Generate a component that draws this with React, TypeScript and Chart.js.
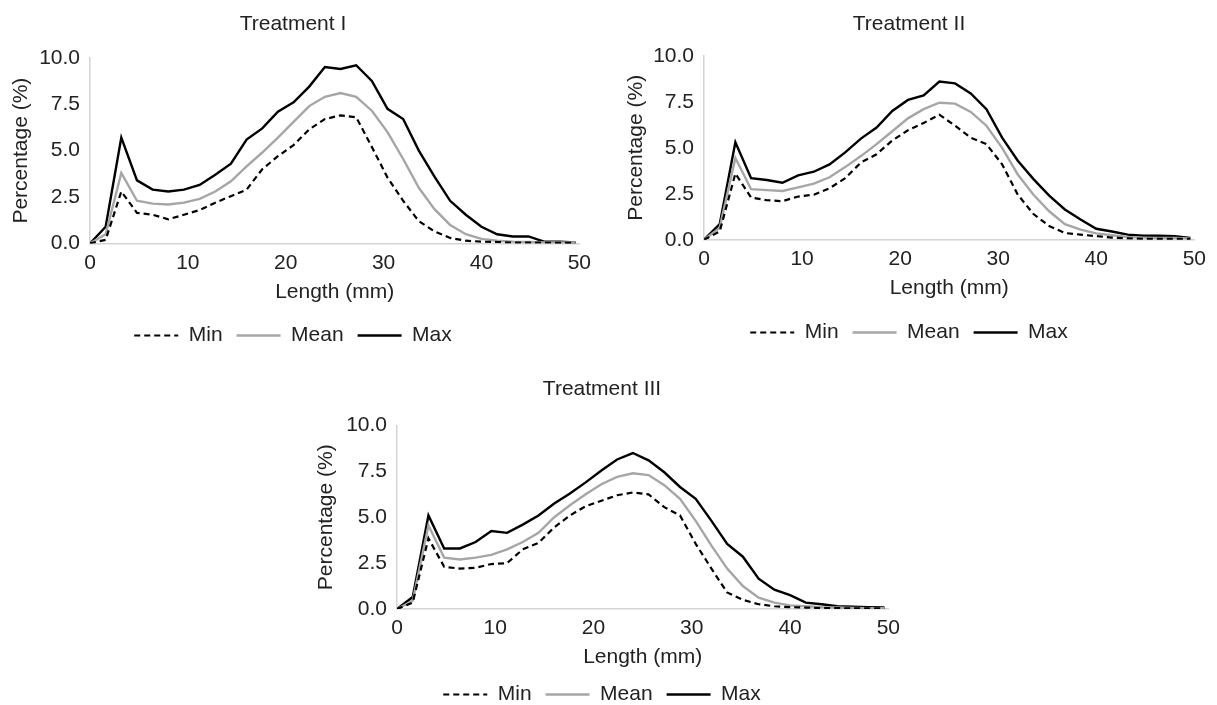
import React, { useEffect, useRef } from 'react';
import { Chart, registerables } from 'chart.js';

Chart.register(...registerables);

// ---- Data ----
const LENGTHS = [0, 1.6, 3.2, 4.8, 6.4, 8, 9.6, 11.2, 12.8, 14.4, 16, 17.6, 19.2, 20.8, 22.4, 24, 25.6, 27.2, 28.8, 30.4, 32, 33.6, 35.2, 36.8, 38.4, 40, 41.6, 43.2, 44.8, 46.4, 48, 49.6];

const T1_MIN = [0, 0.2, 2.8, 1.65, 1.55, 1.3, 1.55, 1.8, 2.2, 2.55, 2.9, 4.0, 4.7, 5.3, 6.15, 6.7, 6.9, 6.8, 5.2, 3.55, 2.3, 1.2, 0.65, 0.3, 0.15, 0.1, 0.08, 0.05, 0.05, 0.05, 0.03, 0.03];
const T1_MEAN = [0, 0.5, 3.8, 2.3, 2.15, 2.1, 2.2, 2.4, 2.8, 3.35, 4.15, 4.9, 5.7, 6.55, 7.4, 7.9, 8.1, 7.9, 7.15, 6.0, 4.55, 3.0, 1.85, 1.0, 0.5, 0.25, 0.15, 0.1, 0.08, 0.05, 0.05, 0.05];
const T1_MAX = [0, 0.9, 5.7, 3.4, 2.9, 2.8, 2.9, 3.15, 3.7, 4.3, 5.6, 6.2, 7.1, 7.6, 8.45, 9.5, 9.4, 9.6, 8.75, 7.25, 6.7, 5.0, 3.6, 2.3, 1.55, 0.9, 0.5, 0.38, 0.38, 0.1, 0.1, 0.05];

const T2_MIN = [0, 0.45, 3.6, 2.3, 2.15, 2.1, 2.35, 2.45, 2.8, 3.35, 4.2, 4.65, 5.4, 5.95, 6.35, 6.8, 6.2, 5.55, 5.2, 4.1, 2.45, 1.4, 0.75, 0.37, 0.28, 0.2, 0.12, 0.08, 0.05, 0.05, 0.05, 0.05];
const T2_MEAN = [0, 0.65, 4.45, 2.75, 2.7, 2.65, 2.85, 3.05, 3.4, 3.95, 4.55, 5.2, 5.9, 6.6, 7.1, 7.45, 7.4, 6.95, 6.2, 5.0, 3.55, 2.45, 1.55, 0.85, 0.55, 0.35, 0.25, 0.15, 0.12, 0.1, 0.1, 0.08];
const T2_MAX = [0, 0.85, 5.3, 3.35, 3.25, 3.1, 3.5, 3.7, 4.1, 4.75, 5.5, 6.1, 7.0, 7.6, 7.85, 8.6, 8.5, 7.95, 7.1, 5.55, 4.3, 3.3, 2.4, 1.65, 1.1, 0.6, 0.45, 0.28, 0.22, 0.22, 0.2, 0.1];

const T3_MIN = [0, 0.35, 3.85, 2.3, 2.2, 2.25, 2.45, 2.5, 3.25, 3.6, 4.45, 5.1, 5.6, 5.9, 6.2, 6.35, 6.25, 5.55, 5.1, 3.55, 2.2, 0.9, 0.5, 0.26, 0.15, 0.1, 0.08, 0.05, 0.05, 0.03, 0.03, 0.03];
const T3_MEAN = [0, 0.45, 4.55, 2.8, 2.7, 2.8, 2.95, 3.25, 3.65, 4.15, 5.0, 5.65, 6.25, 6.8, 7.2, 7.4, 7.3, 6.75, 6.0, 4.8, 3.45, 2.2, 1.25, 0.62, 0.35, 0.2, 0.15, 0.1, 0.08, 0.06, 0.05, 0.05];
const T3_MAX = [0, 0.65, 5.1, 3.3, 3.3, 3.65, 4.25, 4.15, 4.6, 5.1, 5.75, 6.3, 6.9, 7.55, 8.15, 8.5, 8.1, 7.45, 6.65, 6.0, 4.8, 3.55, 2.85, 1.65, 1.05, 0.75, 0.35, 0.26, 0.15, 0.13, 0.1, 0.08];

const TITLES = ['Treatment I', 'Treatment II', 'Treatment III'];
const SERIES_LABELS = ['Min', 'Mean', 'Max'];
const X_TITLE = 'Length (mm)';
const Y_TITLE = 'Percentage (%)';

// ---- Style ----
const FONT_FAMILY = "'Liberation Sans', Arial, sans-serif";
const FS = 21;
const LH = FS * 1.2;
const TEXT = '#222222';
const AXIS = '#d4d4d4';
const LEG_PAD = 14;
const LEG_H = 46; // measured legend box height
const LEG_OFF = 24.5; // legend text centre below legend top
const PAD_R = 20; // right overhang reserved for last x label

type Panel = {
  title: string;
  min: number[];
  mean: number[];
  max: number[];
  top: number;
  titleX: number;
  titleY: number;
  areaLeft: number;
  areaRight: number;
  areaTop: number;
  areaBottom: number;
  xTitleY: number;
  legendY: number;
  yTitleX: number;
};

const PANELS: Panel[] = [
  { title: TITLES[0], min: T1_MIN, mean: T1_MEAN, max: T1_MAX, top: 0, titleX: 293, titleY: 24, areaLeft: 90, areaRight: 578, areaTop: 57.8, areaBottom: 242.5, xTitleY: 291, legendY: 334, yTitleX: 21.7 },
  { title: TITLES[1], min: T2_MIN, mean: T2_MEAN, max: T2_MAX, top: 0, titleX: 909, titleY: 24, areaLeft: 704, areaRight: 1193, areaTop: 55.8, areaBottom: 238.8, xTitleY: 287, legendY: 331, yTitleX: 636 },
  { title: TITLES[2], min: T3_MIN, mean: T3_MEAN, max: T3_MAX, top: 365, titleX: 601.5, titleY: 389, areaLeft: 397, areaRight: 886.7, areaTop: 425.5, areaBottom: 608, xTitleY: 656, legendY: 693, yTitleX: 326 },
];

function ChartPanel({ p }: { p: Panel }) {
  const ref = useRef<HTMLCanvasElement | null>(null);
  const W = Math.round(2 * (p.areaRight + PAD_R - p.titleX));
  const L = Math.round(p.areaRight + PAD_R - W);
  const H = Math.round(p.legendY - LEG_OFF + LEG_H - p.top);

  useEffect(() => {
    if (!ref.current) return;
    const legendTop = H - LEG_H;
    const xh = legendTop - (p.areaBottom - p.top);
    const xpb = legendTop - (p.xTitleY - p.top) - LH / 2;
    const tpt = p.titleY - p.top - LH / 2;
    const tpb = p.areaTop - p.top - tpt - LH;
    const ytp = p.yTitleX - L - LH / 2;
    const yw = p.areaLeft - L;
    const font = { family: FONT_FAMILY, size: FS, weight: 'normal' as const };
    const toPts = (arr: number[]) => LENGTHS.map((x, i) => ({ x, y: arr[i] }));

    const chart = new Chart(ref.current, {
      type: 'line',
      data: {
        datasets: [
          { label: SERIES_LABELS[0], data: toPts(p.min), borderColor: '#000000', backgroundColor: '#000000', borderWidth: 2.2, borderDash: [6, 4], pointRadius: 0, tension: 0, fill: false },
          { label: SERIES_LABELS[1], data: toPts(p.mean), borderColor: '#a6a6a6', backgroundColor: '#a6a6a6', borderWidth: 2.4, pointRadius: 0, tension: 0, fill: false },
          { label: SERIES_LABELS[2], data: toPts(p.max), borderColor: '#000000', backgroundColor: '#000000', borderWidth: 2.4, pointRadius: 0, tension: 0, fill: false },
        ],
      },
      options: {
        responsive: false,
        animation: false,
        events: [],
        layout: { padding: 0 },
        scales: {
          x: {
            type: 'linear',
            min: 0,
            max: 50,
            ticks: { stepSize: 10, padding: 7, color: TEXT, font },
            grid: { display: false, drawTicks: false },
            border: { display: true, color: AXIS, width: 1.5 },
            title: { display: true, text: X_TITLE, color: TEXT, font, padding: { top: 0, bottom: xpb } },
            afterFit: (s: any) => { s.height = xh; },
          },
          y: {
            min: 0,
            max: 10,
            ticks: { stepSize: 2.5, padding: 10, color: TEXT, font, callback: (v: any) => Number(v).toFixed(1) },
            grid: { display: false, drawTicks: false },
            border: { display: true, color: AXIS, width: 1.5 },
            title: { display: true, text: Y_TITLE, color: TEXT, font, padding: { top: ytp, bottom: 0 } },
            afterFit: (s: any) => { s.width = yw; },
          },
        },
        plugins: {
          title: { display: true, text: p.title, color: TEXT, font, padding: { top: tpt, bottom: tpb } },
          legend: {
            position: 'bottom',
            labels: {
              usePointStyle: true,
              pointStyle: 'line',
              pointStyleWidth: 44,
              padding: LEG_PAD,
              color: TEXT,
              font,
              generateLabels: (c: any) =>
                c.data.datasets.map((ds: any, i: number) => ({
                  text: ds.label,
                  fillStyle: ds.borderColor,
                  strokeStyle: ds.borderColor,
                  lineWidth: ds.borderWidth,
                  lineDash: ds.borderDash || [],
                  lineCap: 'butt',
                  pointStyle: 'line',
                  hidden: false,
                  datasetIndex: i,
                  fontColor: TEXT,
                })),
            },
          },
          tooltip: { enabled: false },
        },
      },
    } as any);
    return () => chart.destroy();
  }, []);

  return (
    <canvas
      ref={ref}
      width={W}
      height={H}
      style={{ position: 'absolute', left: L, top: p.top, width: W, height: H }}
    />
  );
}

export default function App() {
  return (
    <div style={{ position: 'absolute', left: 0, top: 0, width: 1217, height: 705, overflow: 'hidden', background: '#ffffff' }}>
      {PANELS.map((p) => (
        <ChartPanel key={p.title} p={p} />
      ))}
    </div>
  );
}
